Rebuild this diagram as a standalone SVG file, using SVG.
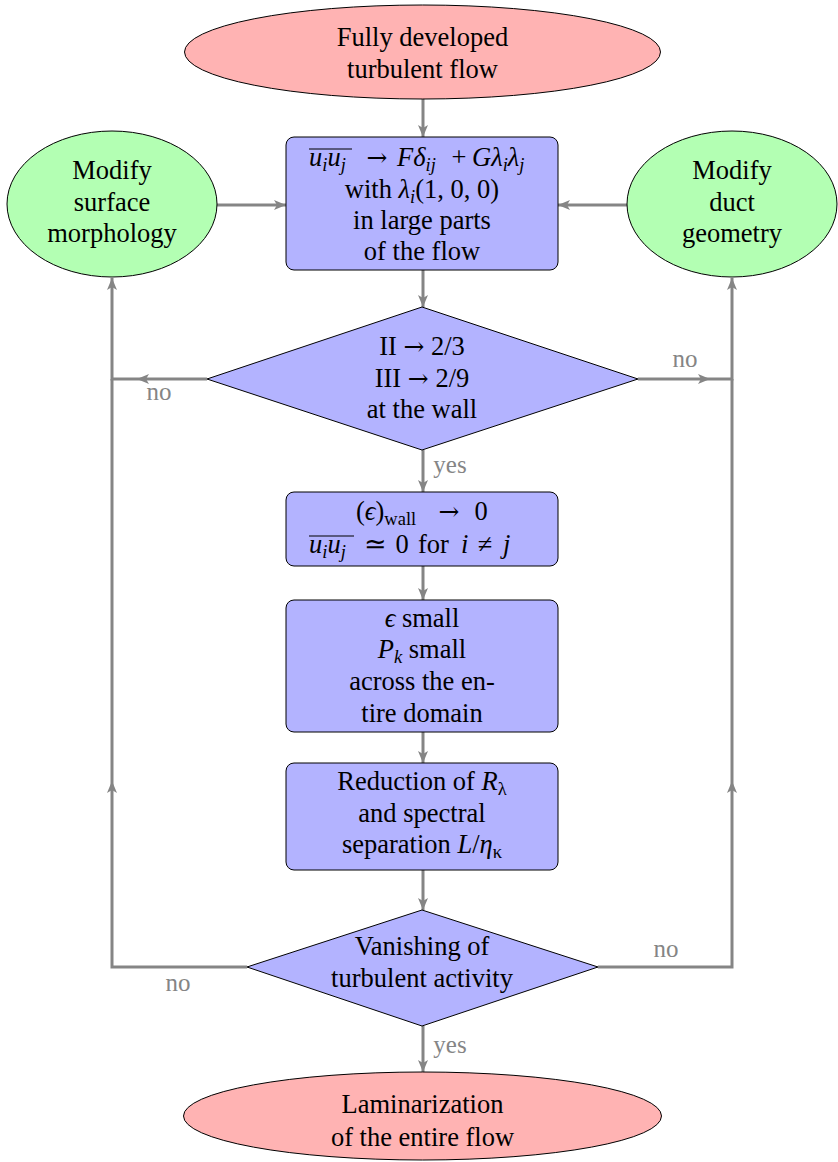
<svg xmlns="http://www.w3.org/2000/svg" width="838" height="1162" viewBox="0 0 838 1162">
<style>
.t{font-family:"Liberation Serif","Times New Roman",serif;font-size:26.5px;fill:#000;text-anchor:middle}
.a{text-anchor:start}
.ar{font-family:"DejaVu Serif",serif;font-size:25px}
.l{font-family:"Liberation Serif","Times New Roman",serif;font-size:25px;fill:#858585;text-anchor:middle}
.i{font-style:italic}
.s{font-size:18.5px}
.red{fill:#ffb3b3;stroke:#000;stroke-width:1}
.grn{fill:#b3ffb3;stroke:#000;stroke-width:1}
.blu{fill:#b3b3ff;stroke:#000;stroke-width:1}
.c{fill:none;stroke:#858585;stroke-width:3}
.ov{stroke:#000;stroke-width:1.2}
</style>
<defs>
<marker id="ah" viewBox="0 0 12 10" refX="12" refY="5" markerWidth="12" markerHeight="10" markerUnits="userSpaceOnUse" orient="auto">
<path d="M0,0 L12,5 L0,10 L3,5 z" fill="#858585"/>
</marker>
</defs>
<g id="connectors">
<path class="c" d="M423,99 V137" marker-end="url(#ah)"/>
<path class="c" d="M217,205 H286" marker-end="url(#ah)"/>
<path class="c" d="M627,205 H558" marker-end="url(#ah)"/>
<path class="c" d="M423,270 V307" marker-end="url(#ah)"/>
<path class="c" d="M423,450 V492" marker-end="url(#ah)"/>
<path class="c" d="M423,566 V600" marker-end="url(#ah)"/>
<path class="c" d="M423,732 V763" marker-end="url(#ah)"/>
<path class="c" d="M423,870 V910" marker-end="url(#ah)"/>
<path class="c" d="M423,1026 V1072" marker-end="url(#ah)"/>
<path class="c" d="M207,379 H137" marker-end="url(#ah)"/>
<path class="c" d="M137,379 H112 V278" marker-end="url(#ah)"/>
<path class="c" d="M638,379 H710" marker-end="url(#ah)"/>
<path class="c" d="M710,379 H732 V278" marker-end="url(#ah)"/>
<path class="c" d="M247,967 H112 V781" marker-end="url(#ah)"/>
<path class="c" d="M112,781 V379"/>
<path class="c" d="M598,967 H732 V781" marker-end="url(#ah)"/>
<path class="c" d="M732,781 V379"/>
<text class="l" x="450" y="473">yes</text>
<text class="l" x="159" y="400">no</text>
<text class="l" x="685" y="367">no</text>
<text class="l" x="178" y="991">no</text>
<text class="l" x="666" y="957">no</text>
<text class="l" x="450" y="1053">yes</text>
</g>
<g id="start">
<ellipse class="red" cx="422.5" cy="52" rx="238" ry="47"/>
<text class="t" x="422.5" y="46">Fully developed</text>
<text class="t" x="422.5" y="78">turbulent flow</text>
</g>
<g id="modify-surface">
<ellipse class="grn" cx="112" cy="204" rx="105" ry="73"/>
<text class="t" x="112" y="179">Modify</text>
<text class="t" x="112" y="211">surface</text>
<text class="t" x="112" y="242">morphology</text>
</g>
<g id="modify-duct">
<ellipse class="grn" cx="732" cy="204" rx="105" ry="73"/>
<text class="t" x="732" y="179">Modify</text>
<text class="t" x="732" y="211">duct</text>
<text class="t" x="732" y="242">geometry</text>
</g>
<g id="stress">
<rect class="blu" x="286" y="137" width="272" height="133" rx="8"/>
<line class="ov" x1="309" y1="149" x2="352" y2="149"/>
<text class="t a i" x="309" y="166">u<tspan class="s" dy="5">i</tspan><tspan dy="-5">u</tspan><tspan class="s" dy="5">j</tspan></text>
<text class="t ar" x="377" y="166">→</text>
<text class="t a i" x="397" y="166">Fδ<tspan class="s" dy="5">ij</tspan></text>
<text class="t" x="459" y="166">+</text>
<text class="t a i" x="472" y="166">Gλ<tspan class="s" dy="5">i</tspan><tspan dy="-5">λ</tspan><tspan class="s" dy="5">j</tspan></text>
<text class="t" x="422" y="198">with <tspan class="i">λ</tspan><tspan class="s i" dy="5">i</tspan><tspan dy="-5">(1,</tspan> 0, 0)</text>
<text class="t" x="422" y="229">in large parts</text>
<text class="t" x="422" y="260">of the flow</text>
</g>
<g id="decision1">
<polygon class="blu" points="422,307 638,379 422,450 207,379"/>
<text class="t" x="422" y="355">II <tspan class="ar">→</tspan> 2/3</text>
<text class="t" x="422" y="387">III <tspan class="ar">→</tspan> 2/9</text>
<text class="t" x="422" y="418">at the wall</text>
</g>
<g id="wall">
<rect class="blu" x="286" y="492" width="272" height="74" rx="8"/>
<text class="t a" x="356" y="520">(<tspan class="i">ϵ</tspan>)<tspan class="s" dy="5">wall</tspan></text>
<text class="t ar" x="449" y="520">→</text>
<text class="t" x="481" y="520">0</text>
<line class="ov" x1="309" y1="536" x2="354" y2="536"/>
<text class="t a i" x="309" y="553">u<tspan class="s" dy="5">i</tspan><tspan dy="-5">u</tspan><tspan class="s" dy="5">j</tspan></text>
<text class="t" x="375" y="553">≃</text>
<text class="t" x="402" y="553">0</text>
<text class="t a" x="418" y="553">for</text>
<text class="t a i" x="461" y="553">i</text>
<text class="t" x="485" y="553">≠</text>
<text class="t a i" x="503" y="553">j</text>
</g>
<g id="small">
<rect class="blu" x="286" y="600" width="272" height="132" rx="8"/>
<text class="t" x="422" y="627"><tspan class="i">ϵ</tspan> small</text>
<text class="t" x="422" y="658"><tspan class="i">P</tspan><tspan class="s i" dy="5">k</tspan><tspan dy="-5"> small</tspan></text>
<text class="t" x="422" y="690">across the en-</text>
<text class="t" x="422" y="722">tire domain</text>
</g>
<g id="reduction">
<rect class="blu" x="286" y="763" width="272" height="107" rx="8"/>
<text class="t" x="422" y="790">Reduction of <tspan class="i">R</tspan><tspan class="s" dy="5">λ</tspan></text>
<text class="t" x="422" y="822">and spectral</text>
<text class="t" x="422" y="853">separation <tspan class="i">L</tspan>/<tspan class="i">η</tspan><tspan class="s" dy="5">κ</tspan></text>
</g>
<g id="decision2">
<polygon class="blu" points="422,910 598,967 422,1026 247,967"/>
<text class="t" x="422" y="955">Vanishing of</text>
<text class="t" x="422" y="987">turbulent activity</text>
</g>
<g id="end">
<ellipse class="red" cx="422.5" cy="1116" rx="239" ry="44"/>
<text class="t" x="422.5" y="1113">Laminarization</text>
<text class="t" x="422.5" y="1146">of the entire flow</text>
</g>
</svg>
